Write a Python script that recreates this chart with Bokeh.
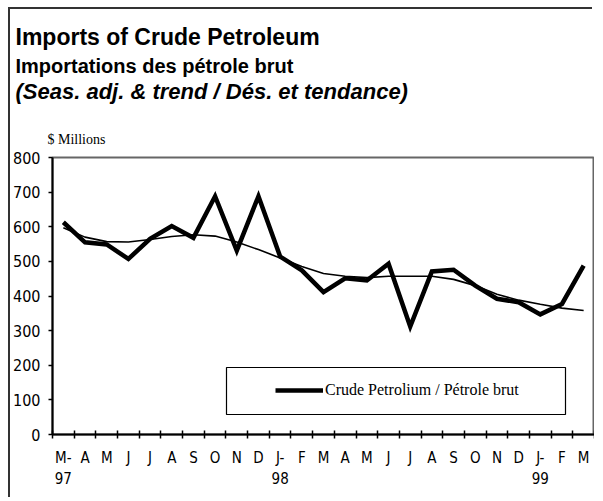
from bokeh.plotting import figure
from bokeh.models import (FixedTicker, Legend, LegendItem, Title, BoxAnnotation, Range1d)
from bokeh.embed import file_html
from bokeh.resources import INLINE

# ---- data ----
months = ["M-\n97", "A", "M", "J", "J", "A", "S", "O", "N", "D",
          "J-\n98", "F", "M", "A", "M", "J", "J", "A", "S", "O", "N", "D",
          "J-\n99", "F", "M"]
seas_adj = [613, 555, 549, 507, 565, 602, 568, 688, 531, 688,
            514, 474, 411, 451, 445, 493, 312, 471, 476, 430, 392, 382,
            347, 377, 488]
trend = [597, 570, 557, 556, 563, 572, 577, 573, 556, 534,
         510, 485, 465, 457, 453, 457, 457, 457, 448, 430, 405, 388,
         376, 365, 358]
y_ticks = [0, 100, 200, 300, 400, 500, 600, 700, 800]

title1 = "Imports of Crude Petroleum"
title2 = "Importations des pétrole brut"
title3 = "(Seas. adj. & trend / Dés. et tendance)"
unit_label = "$ Millions"
series_label = "Crude Petrolium / Pétrole brut"

idx = list(range(len(months)))
NARROW = "'Liberation Sans Narrow', 'DejaVu Sans Condensed', sans-serif"

p = figure(frame_width=542, frame_height=277, output_backend="svg", toolbar_location=None,
           x_range=Range1d(-0.5, len(months) - 0.5), y_range=Range1d(0, 800),
           min_border_left=42, min_border_right=0, min_border_top=148, min_border_bottom=65,
           background_fill_color="white", border_fill_color="white")
p.margin = (9, 0, 0, 10)
p.styles = {"box-shadow": "-2px -2px 0px 0px #333333"}
p.xgrid.visible = False
p.ygrid.visible = False
p.outline_line_color = "#666666"
p.outline_line_width = 2

# y axis
ya = p.yaxis[0]
ya.ticker = FixedTicker(ticks=y_ticks)
ya.major_tick_in = 0
ya.major_tick_out = 4
ya.minor_tick_line_color = None
ya.axis_line_color = "black"
ya.axis_line_width = 2
ya.major_tick_line_color = "black"
ya.major_tick_line_width = 1.5
ya.major_label_standoff = 8
ya.major_label_text_font = NARROW
ya.major_label_text_font_size = "16px"
ya.major_label_text_color = "black"

# x axis: labels at category centres, tick marks at boundaries
xa = p.xaxis[0]
xa.ticker = FixedTicker(ticks=idx, minor_ticks=[i - 0.5 for i in range(len(months) + 1)])
xa.major_label_overrides = {i: m for i, m in enumerate(months)}
xa.major_tick_in = 0
xa.major_tick_out = 0
xa.minor_tick_in = 4
xa.minor_tick_out = 4
xa.minor_tick_line_color = "black"
xa.minor_tick_line_width = 1.5
xa.axis_line_color = "black"
xa.axis_line_width = 2
xa.major_label_standoff = 10
xa.major_label_text_font = NARROW
xa.major_label_text_font_size = "15px"
xa.major_label_text_line_height = 1.2
xa.major_label_text_color = "black"

# series
r_sa = p.line(idx, seas_adj, line_color="black", line_width=4.5, line_join="miter")
r_tr = p.line(idx, trend, line_color="black", line_width=1.6)

# legend frame + legend
p.add_layout(BoxAnnotation(left=174, right=513, bottom=20, top=67,
                           left_units="screen", right_units="screen",
                           bottom_units="screen", top_units="screen",
                           fill_alpha=0, line_color="black", line_alpha=1, line_width=1.2))
legend = Legend(items=[LegendItem(label=series_label, renderers=[r_sa])],
                location=(223, 34), padding=0, spacing=0, margin=0,
                border_line_alpha=0, background_fill_alpha=0,
                glyph_width=48, glyph_height=20, label_height=20, label_standoff=2,
                label_text_font="Liberation Serif", label_text_font_size="16px",
                label_text_color="black")
p.add_layout(legend)

# titles (added nearest-first)
p.add_layout(Title(text=unit_label, align="left", offset=-5, standoff=22,
                   text_font="Liberation Serif", text_font_style="normal",
                   text_font_size="14px", text_color="black"), "above")
p.add_layout(Title(text=" ", align="left", standoff=2,
                   text_font_size="10px"), "above")
p.add_layout(Title(text=title3, align="left", offset=-37, standoff=0,
                   text_font="Liberation Sans", text_font_style="bold italic",
                   text_font_size="22px", text_color="black"), "above")
p.add_layout(Title(text=title2, align="left", offset=-37, standoff=0,
                   text_font="Liberation Sans", text_font_style="bold",
                   text_font_size="20px", text_color="black"), "above")
p.add_layout(Title(text=title1, align="left", offset=-37, standoff=6,
                   text_font="Liberation Sans", text_font_style="bold",
                   text_font_size="23px", text_color="black"), "above")

open("out.html", "w").write(file_html(p, INLINE))
